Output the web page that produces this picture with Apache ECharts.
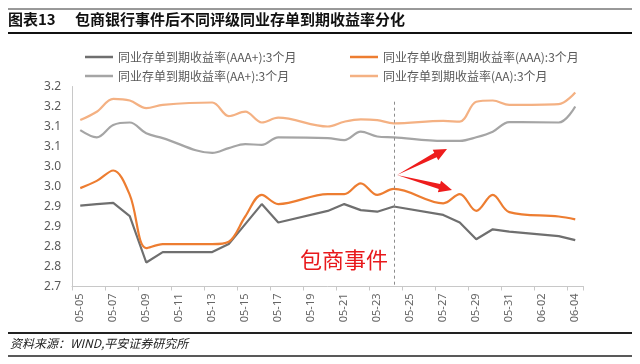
<!DOCTYPE html>
<html>
<head>
<meta charset="utf-8">
<script src="https://cdn.jsdelivr.net/npm/echarts@6/dist/echarts.min.js"></script>
<style>
html,body{margin:0;padding:0;background:#fff;}
#c{width:640px;height:364px;}
</style>
</head>
<body>
<div id="c"></div>
<script>
// ---- data ----
var categories = ['05-05','05-06','05-07','05-08','05-09','05-10','05-11','05-12','05-13','05-14','05-15','05-16','05-17','05-18','05-19','05-20','05-21','05-22','05-23','05-24','05-25','05-26','05-27','05-28','05-29','05-30','05-31','06-01','06-02','06-03','06-04'];
var seriesNames = ['同业存单到期收益率(AAA+):3个月','同业存单收盘到期收益率(AAA):3个月','同业存单到期收益率(AA+):3个月','同业存单到期收益率(AA):3个月'];
var aaaPlus = [2.902,2.906,2.909,2.876,2.760,2.786,null,null,2.786,2.806,2.856,2.906,2.860,null,null,2.889,2.906,2.891,2.887,2.900,null,null,2.879,2.860,2.818,2.843,2.837,null,null,2.826,2.816];
var aaa     = [2.946,2.964,2.990,2.929,2.796,2.806,null,null,2.806,2.812,2.875,2.929,2.906,null,null,2.931,2.931,2.958,2.929,2.944,null,null,2.908,2.931,2.889,2.929,2.886,null,null,2.875,2.868];
var aaPlus  = [3.091,3.073,3.104,3.110,3.083,3.071,null,null,3.034,3.046,3.056,3.054,3.073,null,null,3.071,3.066,3.087,3.075,3.073,null,null,3.064,3.064,3.073,3.087,3.111,null,null,3.110,3.150];
var aa      = [3.116,3.137,3.169,3.165,3.146,3.154,null,null,3.160,3.126,3.137,3.110,3.122,null,null,3.100,3.112,3.118,3.116,3.108,null,null,3.114,3.112,3.162,3.165,3.154,null,null,3.156,3.185];
var eventDate = '05-24';
var eventLabel = '包商事件';
var titleText = '图表13';
var titleMain = '包商银行事件后不同评级同业存单到期收益率分化';
var sourceText = '资料来源：WIND,平安证券研究所';

var colors = ['#6f6f6f','#ed7d31','#a5a5a5','#f4b183'];
var dataSets = [aaaPlus, aaa, aaPlus, aa];
var smooths = [false, 0.35, 0.35, 0.35];

var chart = echarts.init(document.getElementById('c'), null, {renderer:'canvas'});

var series = dataSets.map(function(d, k){
  return {
    name: seriesNames[k], type:'line', data:d, connectNulls:true,
    showSymbol:false, symbol:'none', smooth:smooths[k],
    lineStyle:{color:colors[k], width:2.2}, itemStyle:{color:colors[k]},
    z: 3
  };
});
series[0].markLine = {
  silent:true, symbol:'none', label:{show:false},
  lineStyle:{color:'#8c8c8c', type:[3,3], width:1},
  data:[[{coord:[eventDate, 3.162]},{coord:[eventDate, 2.7]}]]
};

var legendPos = [[85,51],[350,51],[85,70],[350,70]];
var legends = seriesNames.map(function(n,k){
  return {
    data:[n], left:legendPos[k][0], top:legendPos[k][1],
    icon:'rect', itemWidth:28, itemHeight:2.5, itemGap:4,
    textStyle:{color:'#595959', fontSize:12, fontFamily:'Noto Sans CJK SC'},
    selectedMode:false, padding:0
  };
});

function arrowPoly(tx,ty,hx,hy){
  var dx=hx-tx, dy=hy-ty, L=Math.sqrt(dx*dx+dy*dy);
  var ux=dx/L, uy=dy/L, nx=-uy, ny=ux;
  var hl=13, bx=hx-ux*hl, by=hy-uy*hl;
  return [[tx,ty],[bx+nx*2.6,by+ny*2.6],[bx+nx*6,by+ny*6],[hx,hy],[bx-nx*6,by-ny*6],[bx-nx*2.6,by-ny*2.6]];
}

var option = {
  animation:false,
  backgroundColor:'#fff',
  legend: legends,
  grid:{left:72, right:56.5, top:86.5, bottom:77.5},
  xAxis:{
    type:'category', data:categories, boundaryGap:true,
    axisLine:{lineStyle:{color:'#c8c8c8', width:1}},
    axisTick:{show:true, interval:1, length:4, lineStyle:{color:'#c8c8c8'}},
    axisLabel:{interval:1, rotate:90, color:'#666', fontSize:11, margin:7, fontFamily:'Noto Sans'}
  },
  yAxis:{
    type:'value', min:2.7, max:3.2, interval:0.05,
    splitLine:{show:false},
    axisLine:{show:true, lineStyle:{color:'#c8c8c8'}},
    axisTick:{show:false},
    axisLabel:{color:'#595959', fontSize:12, margin:11, fontFamily:'Noto Sans',
      formatter:function(v){ return (Math.round(v*10+1e-6)/10).toFixed(1); }}
  },
  series: series,
  graphic:[
    {type:'line', shape:{x1:8,y1:9,x2:632,y2:9}, style:{stroke:'#333', lineWidth:1}},
    {type:'text', left:8, top:12, style:{text:titleText, font:'bold 15px "Noto Sans CJK SC"', fill:'#111'}},
    {type:'text', left:75, top:12, style:{text:titleMain, font:'bold 15px "Noto Sans CJK SC"', fill:'#111'}},
    {type:'line', shape:{x1:8,y1:33,x2:632,y2:33}, style:{stroke:'#111', lineWidth:2}},
    {type:'line', shape:{x1:8,y1:333,x2:632,y2:333}, style:{stroke:'#222', lineWidth:2}},
    {type:'text', left:10, top:337, style:{text:sourceText, font:'italic 12px "Noto Sans CJK SC"', fill:'#222'}},
    {type:'line', shape:{x1:8,y1:356,x2:632,y2:356}, style:{stroke:'#222', lineWidth:1.5}},
    {type:'text', left:300, top:249, style:{text:eventLabel, font:'22px "Noto Sans CJK SC"', fill:'#e8191c'}},
    {type:'polygon', shape:{points:arrowPoly(397,175,447,149)}, style:{fill:'#ee1c1c'}},
    {type:'polygon', shape:{points:arrowPoly(397,175,452,190)}, style:{fill:'#ee1c1c'}}
  ]
};
chart.setOption(option);
</script>
</body>
</html>
